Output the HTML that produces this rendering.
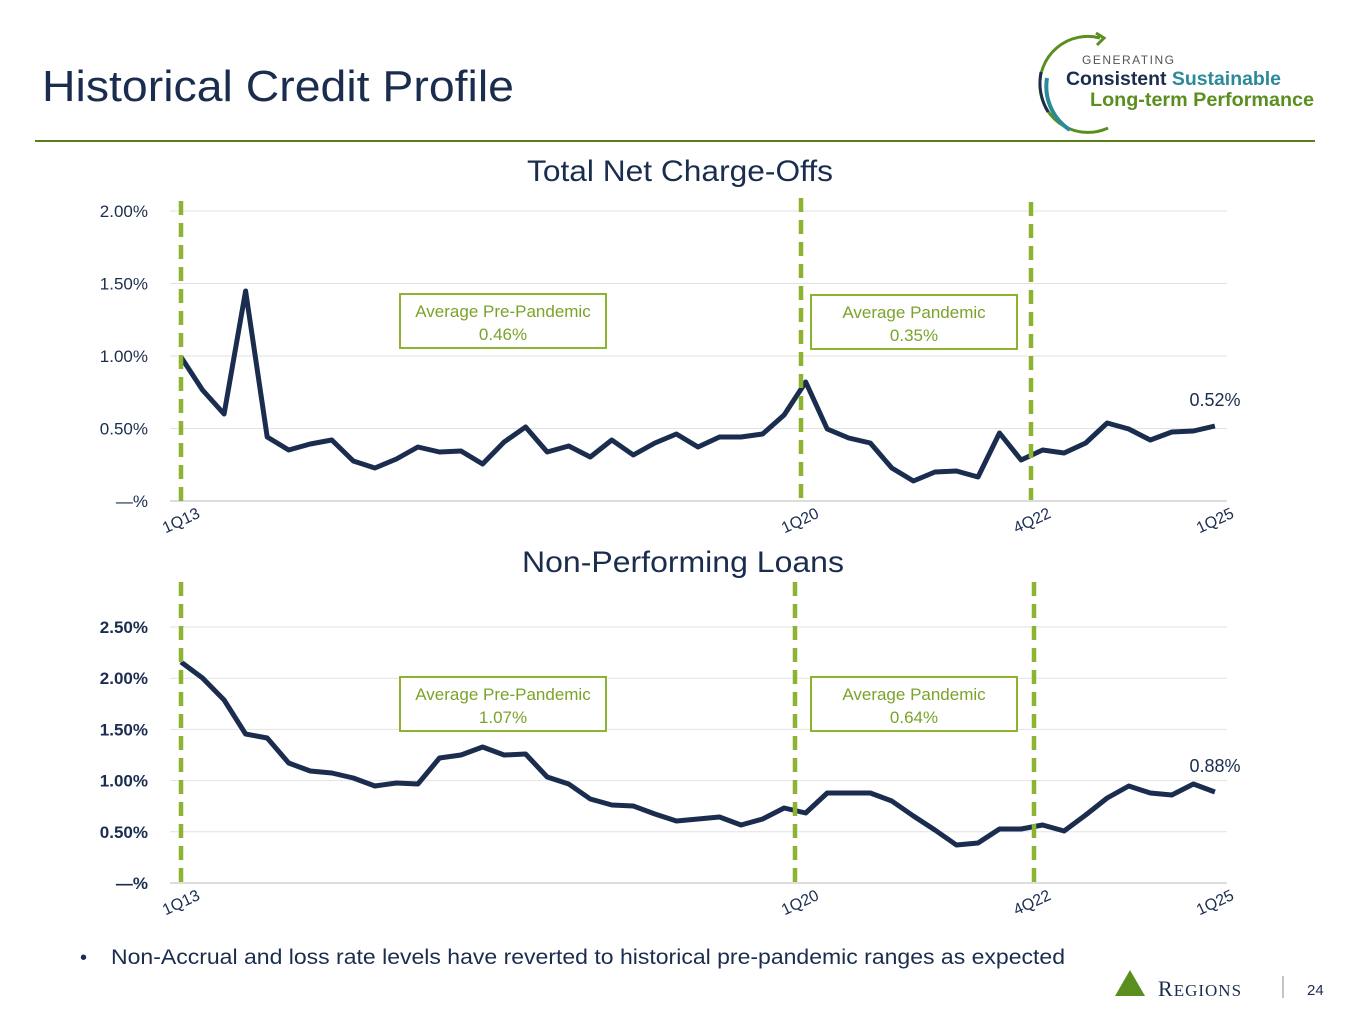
<!DOCTYPE html>
<html><head><meta charset="utf-8"><style>
body{margin:0;width:1365px;height:1024px;background:#fff;overflow:hidden;font-family:"Liberation Sans",sans-serif}
</style></head><body>
<svg id="s" width="1365" height="1024" xmlns="http://www.w3.org/2000/svg" font-family="Liberation Sans, sans-serif">
<text x="42" y="101" font-size="44" fill="#1b2d4f" textLength="472" lengthAdjust="spacingAndGlyphs">Historical Credit Profile</text>
<line x1="35" y1="141" x2="1315" y2="141" stroke="#5a7f1a" stroke-width="2"/>
<!-- logo -->
<path d="M1100,38 A48,48 0 1 0 1108,128" fill="none" stroke="#5a8f1f" stroke-width="3"/>
<path d="M1096,33 L1104,38 L1097,45" fill="none" stroke="#5a8f1f" stroke-width="3"/>
<path d="M1047,78 A52,52 0 0 0 1070,130" fill="none" stroke="#2a8a9a" stroke-width="4"/>
<path d="M1041,72 A58,58 0 0 0 1048,112" fill="none" stroke="#1b2d4f" stroke-width="3"/>
<text x="1082" y="64" font-size="12" fill="#555" letter-spacing="1.5">GENERATING</text>
<text x="1066" y="85" font-size="19" font-weight="bold" fill="#1b2d4f" textLength="215" lengthAdjust="spacingAndGlyphs">Consistent <tspan fill="#2a8a9a">Sustainable</tspan></text>
<text x="1090" y="106" font-size="19" font-weight="bold" fill="#5a8f1f" textLength="224" lengthAdjust="spacingAndGlyphs">Long-term Performance</text>

<text x="527" y="181" font-size="30" fill="#1b2d4f" textLength="306" lengthAdjust="spacingAndGlyphs">Total Net Charge-Offs</text>
<text x="522" y="572" font-size="30" fill="#1b2d4f" textLength="322" lengthAdjust="spacingAndGlyphs">Non-Performing Loans</text>
<g id="c1"></g><g id="c2"></g>
<text x="80" y="964" font-size="20" fill="#1b2d4f">•</text>
<text x="111" y="964" font-size="21" fill="#1b2d4f" textLength="954" lengthAdjust="spacingAndGlyphs">Non-Accrual and loss rate levels have reverted to historical pre-pandemic ranges as expected</text>
<path d="M1115,996 L1130,970 L1145,996 Z" fill="#5a8f1f"/>
<text x="1158" y="996" font-size="22" fill="#1b2d4f" font-family="Liberation Serif, serif" letter-spacing="1">R<tspan font-size="17">EGIONS</tspan></text>
<line x1="1283" y1="976" x2="1283" y2="998" stroke="#888"/>
<text x="1307" y="995" font-size="15" fill="#1b2d4f">24</text>
</svg>
<script>
var NS="http://www.w3.org/2000/svg";
function el(p,t,a,txt){var e=document.createElementNS(NS,t);for(var k in a)e.setAttribute(k,a[k]);if(txt!=null)e.textContent=txt;p.appendChild(e);return e;}
function chart(g,zeroY,step,ticks,vals,dash,boxes,endLbl,bold){
 var G=document.getElementById(g);
 for(var i=0;i<ticks.length;i++){var y=zeroY-i*step;
  el(G,"line",{x1:170,x2:1227,y1:y,y2:y,stroke:i==0?"#bbb":"#e2e2e2","stroke-width":1});
  el(G,"text",{x:148,y:y+6,"font-size":17,fill:"#1b2d4f","text-anchor":"end","font-weight":bold?"bold":"normal"},ticks[i]);}
 var pts=vals.map(function(v,i){return (181+i*21.54).toFixed(1)+","+v}).join(" ");
 el(G,"polyline",{points:pts,fill:"none",stroke:"#1b2d4f","stroke-width":5,"stroke-linejoin":"round"});
 dash.forEach(function(d){el(G,"line",{x1:d[0],x2:d[0],y1:d[1],y2:d[2],stroke:"#8cb431","stroke-width":4.5,"stroke-dasharray":"14,8"});});
 boxes.forEach(function(b){el(G,"rect",{x:b[0],y:b[1],width:206,height:54,fill:"#fff",stroke:"#8cb431","stroke-width":2});
  el(G,"text",{x:b[0]+103,y:b[1]+23,"font-size":17,fill:"#7aa32a","text-anchor":"middle"},b[2]);
  el(G,"text",{x:b[0]+103,y:b[1]+46,"font-size":17,fill:"#7aa32a","text-anchor":"middle"},b[3]);});
 el(G,"text",{x:1215,y:endLbl[0],"font-size":18,fill:"#1b2d4f","text-anchor":"middle"},endLbl[1]);
 var xl=[[181,"1Q13"],[800,"1Q20"],[1032,"4Q22"],[1215,"1Q25"]];
 xl.forEach(function(l){el(G,"text",{x:l[0]+20,y:zeroY+16,"font-size":16,fill:"#1b2d4f","text-anchor":"end",transform:"rotate(-25 "+(l[0]+20)+" "+(zeroY+16)+")"},l[1]);});
}
chart("c1",501,72.5,["—%","0.50%","1.00%","1.50%","2.00%"],
[357,390,414,291,437,450,444,440,461,468,459,447,452,451,464,442,427,452,446,457,440,455,443,434,447,437,437,434,415,382,429,438,443,468,481,472,471,477,433,460,450,453,443,423,429,440,432,431,426],
[[181,201,501],[801,198,500],[1031,202,500]],
[[400,294,"Average Pre-Pandemic","0.46%"],[811,295,"Average Pandemic","0.35%"]],[406,"0.52%"],false);
chart("c2",883,51.2,["—%","0.50%","1.00%","1.50%","2.00%","2.50%"],
[662,678,700,734,738,763,771,773,778,786,783,784,758,755,747,755,754,777,784,799,805,806,814,821,819,817,825,819,808,813,793,793,793,801,816,830,845,843,829,829,825,831,815,798,786,793,795,784,792],
[[181,582,882],[795,582,882],[1034,582,882]],
[[400,677,"Average Pre-Pandemic","1.07%"],[811,677,"Average Pandemic","0.64%"]],[772,"0.88%"],true);
</script>
</body></html>
